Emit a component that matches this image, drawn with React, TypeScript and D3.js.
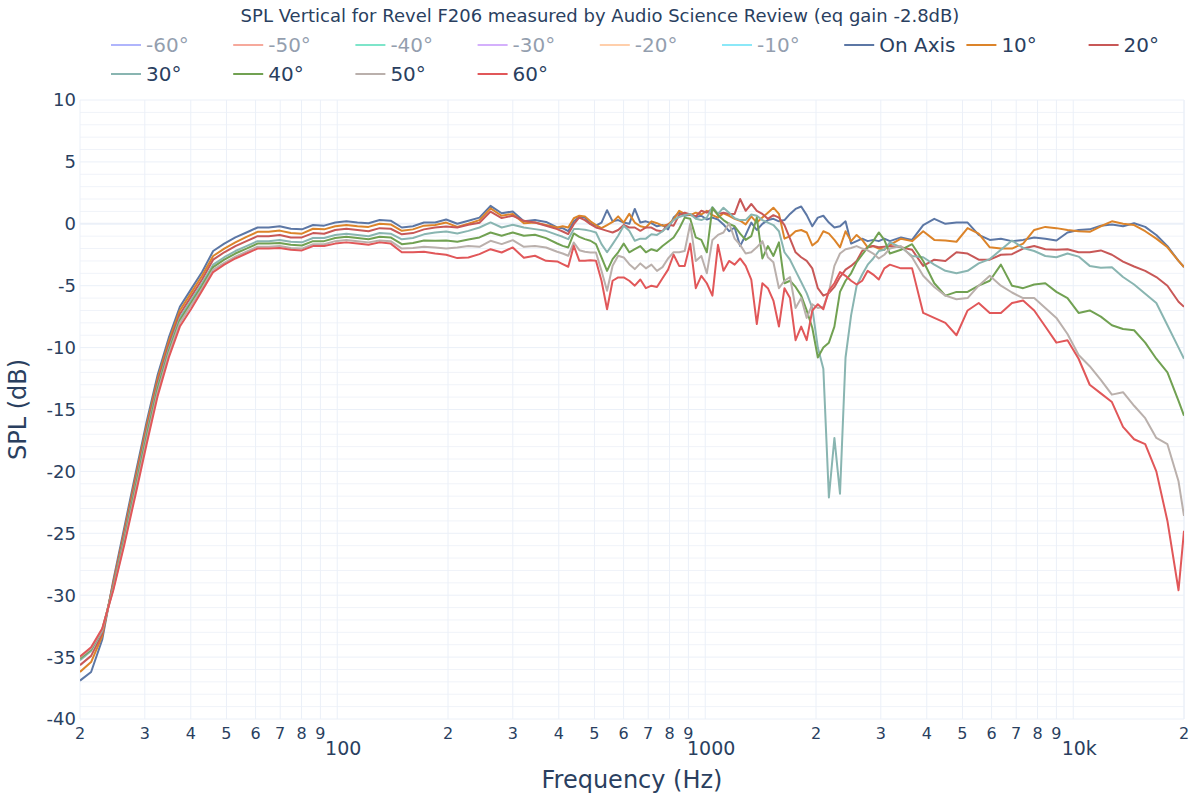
import React from 'react';
import * as d3 from 'd3';

const freqs = [20, 21.44, 22.98, 24.63, 26.4, 28.3, 30.34, 32.52, 34.86, 37.36,
  40.05, 42.93, 46.01, 49.32, 52.87, 56.67, 60.74, 65.11, 69.79, 74.81,
  80.19, 85.95, 92.13, 98.76, 105.9, 113.5, 121.6, 130.4, 139.7, 149.8,
  160.6, 172.1, 184.5, 197.7, 212, 227.2, 243.5, 261, 279.8, 299.9,
  321.5, 344.6, 369.4,
  396, 409.9, 424.4, 439.4, 454.9, 471, 487.6, 504.8, 522.6, 541.1,
  560.2, 580, 600.5, 621.7, 643.6, 666.3, 689.9, 714.2, 739.4, 765.5,
  792.6, 820.5, 849.5, 879.5, 910.6, 942.7, 976, 1010, 1046, 1083,
  1121, 1161, 1202, 1244, 1288, 1334, 1381, 1430, 1480, 1532,
  1586, 1642, 1700, 1760, 1823, 1887, 1954, 2023, 2094, 2168,
  2244, 2324, 2406, 2491, 2579, 2670, 2764, 2861, 2962, 3067,
  3175,
  3404, 3649, 3911, 4192, 4494, 4817, 5164, 5535, 5933, 6360,
  6818, 7308, 7834, 8397, 9001, 9649, 10343, 11087, 11885, 12739,
  13656, 14638, 15691, 16820, 18030, 19327, 20000];

const onAxis = [-36.9, -36.2, -33.6, -28.8, -24.5, -20.2, -16.0, -12.2, -9.2, -6.7,
  -5.3, -3.9, -2.2, -1.6, -1.1, -0.7, -0.3, -0.3, -0.2, -0.4,
  -0.45, -0.1, -0.15, 0.1, 0.2, 0.1, 0.05, 0.3, 0.25, -0.3,
  -0.2, 0.1, 0.1, 0.35, 0.0, 0.25, 0.5, 1.45, 0.85, 1.0,
  0.2, 0.3, 0.15,
  -0.3, -0.35, -0.6, 0.2, 0.55, 0.5, 0.0, -0.15, 0.1, 1.1,
  0.2, 0.3, 0.1, 0.0, 1.2, 0.1, 0.2, 0.05, -0.2, -0.1,
  -0.45, 0.5, 0.9, 0.65, 0.75, 0.55, 0.65, 0.35, 0.5, 0.35,
  -0.05, -0.6, -0.3, -1.8, -0.9, 0.1, -0.5, 0.0, 0.3, 0.4,
  0.2, 0.3, 0.8, 1.2, 1.4, 0.7, -0.2, 0.5, 0.65, 0.1,
  -0.3, -0.2, 0.2, -1.6, -1.4, -1.2, -1.4, -1.3, -1.4, -1.2,
  -1.4,
  -1.1, -1.3, -0.1, 0.4, 0.0, 0.1, 0.1, -0.9, -1.3, -1.2,
  -1.4, -1.3, -1.1, -1.2, -1.35, -0.7, -0.5, -0.45, -0.15, -0.05,
  -0.2, 0.05, -0.25, -0.9, -1.8, -3.0, -3.5];

const deg10 = [-36.2, -35.4, -33.3, -29.0, -24.8, -20.5, -16.3, -12.5, -9.5, -7.0,
  -5.6, -4.2, -2.6, -2.0, -1.5, -1.05, -0.65, -0.65, -0.55, -0.75,
  -0.8, -0.4, -0.45, -0.2, -0.1, -0.2, -0.25, 0.0, -0.05, -0.57,
  -0.45, -0.15, -0.1, 0.1, -0.25, 0.0, 0.3, 1.25, 0.65, 0.8,
  0.05, 0.1, -0.1,
  -0.3, -0.2, -0.3, 0.45, 0.65, 0.6, 0.2, -0.1, -0.35, -0.1,
  0.15, 0.6, 0.1, 0.8, 0.1, -0.2, -0.3, 0.2, 0.05, -0.15,
  -0.05, 0.35, 1.05, 0.8, 0.7, 0.9, 0.75, 1.05, 0.7, 0.5,
  0.85, 0.65, 0.4, 0.25, -0.05, 0.6, 0.1, 0.5, 0.9, 1.3,
  0.8, -1.2, -1.0, -0.6, -0.5, -0.7, -1.75, -1.4, -0.6, -0.8,
  -1.3, -1.9, -0.6, -1.4, -0.9, -1.3, -1.9, -1.8, -2.0, -2.1,
  -1.7,
  -1.2, -1.4, -0.6, -1.3, -1.35, -1.45, -0.35, -0.8, -1.9, -2.0,
  -2.0, -1.6, -0.5, -0.25, -0.35, -0.5, -0.6, -0.65, -0.2, 0.2,
  0.0, -0.1, -0.6, -1.2, -1.9, -3.0, -3.5];

const deg20 = [-35.65, -34.9, -33.1, -29.1, -25.0, -20.8, -16.6, -12.8, -9.8, -7.3,
  -5.9, -4.5, -2.9, -2.3, -1.8, -1.4, -1.0, -1.0, -0.9, -1.1,
  -1.1, -0.75, -0.8, -0.5, -0.4, -0.5, -0.6, -0.35, -0.4, -0.85,
  -0.75, -0.45, -0.3, -0.22, -0.3, -0.08, 0.08, 0.99, 0.46, 0.65,
  0.24, 0.11, -0.16,
  -0.43, -0.62, -0.83, -0.03, 0.51, 0.3, -0.03, -0.3, -0.43, -0.57,
  -0.7, -0.5, -0.1, -0.3, -0.3, -0.57, -0.3, -0.3, -0.55, -0.6,
  -0.05, -0.15, 0.7, 0.9, 0.75, 0.6, 1.05, 0.9, 1.2, 0.8,
  0.9, 0.8, 0.8, 2.0, 1.05, 1.6, 1.05, 0.8, 0.4, 0.7,
  0.5, -0.1, -1.2, -2.3, -2.7, -3.0, -3.6, -5.2, -5.8, -5.6,
  -5.1, -4.3, -3.7, -3.4, -3.0, -2.2, -1.9, -1.8, -1.9, -1.85,
  -1.8,
  -1.9, -2.1, -3.4, -2.9, -3.0, -2.3, -2.4, -2.9, -2.9, -2.5,
  -2.45, -2.0, -1.8, -2.05, -2.1, -2.05, -2.3, -2.3, -2.15, -2.5,
  -3.05, -3.45, -3.8, -4.3, -5.0, -6.3, -6.7];

const deg30 = [-35.25, -34.5, -32.9, -29.3, -25.3, -21.1, -16.9, -13.1, -10.1, -7.6,
  -6.2, -4.8, -3.3, -2.7, -2.2, -1.8, -1.4, -1.4, -1.3, -1.45,
  -1.5, -1.15, -1.15, -0.9, -0.8, -0.9, -1.0, -0.75, -0.8, -1.25,
  -1.15, -0.85, -0.7, -0.62, -0.78, -0.57, -0.3, 0.11, -0.3, -0.08,
  -0.3, -0.43, -0.57,
  -0.89, -1.05, -1.24, -0.43, -0.43, -0.48, -0.57, -0.7, -1.64, -2.3,
  -1.64, -0.97, -0.16, -0.57, -1.37, -1.2, -1.2, -0.85, -0.9, -0.6,
  -0.2, 0.3, 0.55, 0.7, 0.8, 0.4, 0.3, 0.5, 1.35, 0.8,
  1.3, 0.9, 0.45, 0.3, 0.3, 0.75, 0.65, 0.3, 0.1, -0.1,
  -0.6, -2.3, -2.9, -3.8, -4.7, -5.6, -6.8, -10.0, -11.7, -22.1,
  -17.3, -21.8, -10.8, -7.4, -5.0, -4.1, -3.3, -2.8, -2.2, -2.1,
  -1.5,
  -1.9, -2.6, -2.7, -3.3, -3.8, -4.0, -3.8, -3.2, -2.85, -2.1,
  -1.35, -1.95, -2.2, -2.6, -2.7, -2.4, -2.65, -3.4, -3.55, -3.5,
  -4.3, -4.9, -5.65, -6.4, -8.2, -10.0, -10.9];

const deg40 = [-35.1, -34.4, -32.8, -29.4, -25.5, -21.3, -17.2, -13.3, -10.3, -7.8,
  -6.4, -5.0, -3.5, -2.9, -2.4, -2.0, -1.6, -1.6, -1.55, -1.7,
  -1.75, -1.4, -1.4, -1.15, -1.05, -1.15, -1.25, -1.05, -1.1, -1.65,
  -1.55, -1.35, -1.37, -1.35, -1.45, -1.27, -1.1, -0.7, -0.97, -0.7,
  -0.97, -0.89, -1.16,
  -1.59, -1.78, -1.91, -0.78, -1.05, -1.24, -1.37, -1.64, -2.72, -3.8,
  -2.85, -2.3, -1.6, -2.3, -2.05, -1.8, -2.3, -2.05, -2.2, -1.8,
  -1.45, -1.1, -0.4, 0.5, 0.4, -1.1, -1.3, -2.3, 1.3, 0.7,
  0.3, 0.0, -0.2, -0.8, -1.3, -1.0, 0.5, -2.8, -1.8, -2.6,
  -1.5, -4.8, -4.6, -5.1, -5.8, -7.0, -8.4, -10.8, -10.0, -9.6,
  -8.3, -5.5, -4.6, -4.0, -3.1, -2.5, -1.9, -1.4, -0.7, -1.3,
  -2.4,
  -2.1, -1.65, -3.0, -4.8, -5.8, -5.5, -5.5, -5.0, -4.6, -3.3,
  -5.0, -5.2, -4.9, -4.8, -5.5, -6.0, -7.2, -7.0, -7.5, -8.2,
  -8.5, -8.6, -9.6, -10.9, -12.0, -14.3, -15.5];

const deg50 = [-35.0, -34.3, -32.8, -29.5, -25.7, -21.6, -17.5, -13.6, -10.5, -8.0,
  -6.6, -5.2, -3.7, -3.15, -2.65, -2.25, -1.85, -1.85, -1.8, -1.95,
  -2.0, -1.65, -1.65, -1.4, -1.3, -1.4, -1.5, -1.35, -1.4, -2.0,
  -1.95, -1.85, -1.91, -1.99, -1.91, -1.8, -1.86, -1.37, -1.64, -1.32,
  -1.86, -1.8, -1.91,
  -2.26, -2.4, -2.58, -1.51, -2.13, -2.26, -2.32, -2.32, -3.8, -5.41,
  -3.39, -2.58, -2.72, -3.26, -3.66, -3.2, -3.6, -3.3, -3.8, -3.5,
  -2.8, -2.3, -2.3, -2.2, 0.0, -3.0, -2.6, -4.0, -1.3, -0.9,
  -0.7, 0.05, -1.2, -1.7, -2.4, -2.3, -1.9, -1.4, -2.7, -3.1,
  -5.2, -4.6, -4.3, -6.8, -6.0, -7.6, -6.5, -6.8, -6.7, -5.5,
  -3.4, -2.4, -2.05, -1.95, -1.8, -2.0, -2.15, -2.4, -2.8, -2.5,
  -2.0,
  -1.8, -2.7, -4.2, -5.1, -5.8, -6.1, -6.0, -5.0, -4.2, -5.0,
  -5.55, -6.0, -6.0, -6.8, -7.6, -8.9, -10.6, -11.5, -12.6, -13.8,
  -13.6, -14.7, -15.7, -17.3, -17.8, -20.8, -23.6];

const deg60 = [-34.95, -34.2, -32.7, -29.6, -25.9, -21.9, -17.8, -13.9, -10.8, -8.3,
  -6.9, -5.4, -3.9, -3.3, -2.8, -2.4, -2.0, -2.0, -1.95, -2.1,
  -2.15, -1.8, -1.8, -1.6, -1.5, -1.6, -1.7, -1.5, -1.6, -2.3,
  -2.3, -2.25, -2.4, -2.5, -2.77, -2.72, -2.45, -2.05, -2.32, -1.91,
  -2.75, -2.58, -2.99,
  -3.04, -3.26, -3.47, -1.78, -2.99, -2.99, -2.94, -2.99, -4.6, -6.9,
  -4.6, -4.33, -4.33, -4.6, -5.0, -4.5, -5.2, -5.0, -5.1, -4.4,
  -3.7, -2.5, -3.4, -3.4, -1.6, -5.2, -4.2, -4.8, -5.8, -1.7,
  -3.8, -3.0, -3.3, -2.8, -3.4, -4.5, -8.1, -4.8, -5.2, -6.2,
  -8.3, -5.2, -6.0, -9.4, -8.3, -9.4, -7.0, -6.5, -6.9, -5.4,
  -4.8, -3.9, -4.2, -4.6, -4.9, -4.6, -3.8, -4.1, -4.5, -3.6,
  -3.3,
  -3.6, -3.6, -7.2, -7.6, -8.0, -9.0, -7.0, -6.4, -7.2, -7.2,
  -6.4, -6.2, -7.0, -8.3, -9.6, -9.4, -10.9, -13.0, -13.7, -14.4,
  -16.4, -17.4, -17.8, -20.0, -24.0, -29.6, -24.8];

const hiddenNames = ['-60°', '-50°', '-40°', '-30°', '-20°', '-10°'];
const hiddenColors = ['#636efa', '#EF553B', '#00cc96', '#ab63fa', '#FFA15A', '#19d3f3'];

const visibleNames = ['On Axis', '10°', '20°', '30°', '40°', '50°', '60°'];
const visibleColors = ['#5c77a5', '#dc842a', '#c85857', '#89b5b1', '#71a152', '#bab0ac', '#e15759'];
const visibleValues = [onAxis, deg10, deg20, deg30, deg40, deg50, deg60];

const yTickVals = [10, 5, 0, -5, -10, -15, -20, -25, -30, -35, -40];
const xTickVals = [20, 30, 40, 50, 60, 70, 80, 90, 100, 200, 300, 400, 500, 600, 700, 800, 900,
  1000, 2000, 3000, 4000, 5000, 6000, 7000, 8000, 9000, 10000, 20000];
const xTickText = ['2', '3', '4', '5', '6', '7', '8', '9', '100', '2', '3', '4', '5', '6', '7', '8', '9',
  '1000', '2', '3', '4', '5', '6', '7', '8', '9', '10k', '2'];
const xMajor = [100, 1000, 10000];

const TITLE = 'SPL Vertical for Revel F206 measured by Audio Science Review (eq gain -2.8dB)';
const FONT = '"DejaVu Sans", Verdana, sans-serif';
const TXT = '#2a3f5f';

export default function App() {
  const left = 80, right = 1184, top = 100, bottom = 719;
  const x = d3.scaleLog().domain([20, 20000]).range([left, right]);
  const y = d3.scaleLinear().domain([-40, 10]).range([bottom, top]);

  const line = d3.line<[number, number]>()
    .defined(d => d[1] !== undefined && !isNaN(d[1]))
    .x(d => x(d[0]))
    .y(d => y(d[1]));

  const gridX: number[] = [];
  for (let dec = 10; dec <= 10000; dec *= 10) {
    for (let k = 1; k <= 9; k++) {
      const v = dec * k;
      if (v >= 20 && v <= 20000) gridX.push(v);
    }
  }
  gridX.push(20000);
  const minorY = d3.range(-40, 11, 1).filter(v => v % 5 !== 0);

  const legendItems = [
    ...hiddenNames.map((n, i) => ({ name: n, color: hiddenColors[i], hidden: true })),
    ...visibleNames.map((n, i) => ({ name: n, color: visibleColors[i], hidden: false })),
  ];

  return (
    <svg width={1200} height={800} style={{ position: 'absolute', left: 0, top: 0, background: '#fff' }}
      fontFamily={FONT}>
      <defs>
        <clipPath id="plotclip">
          <rect x={left} y={top} width={right - left} height={bottom - top} />
        </clipPath>
      </defs>
      <rect x={0} y={0} width={1200} height={800} fill="#fff" />
      {/* grid */}
      <g>
        {minorY.map(v => (
          <line key={'my' + v} x1={left} x2={right} y1={y(v)} y2={y(v)} stroke="#f0f3f9" strokeWidth={1} />
        ))}
        {gridX.map(v => (
          <line key={'gx' + v} x1={x(v)} x2={x(v)} y1={top} y2={bottom} stroke="#EBF0F8" strokeWidth={1} />
        ))}
        {yTickVals.map(v => (
          <line key={'gy' + v} x1={left} x2={right} y1={y(v)} y2={y(v)} stroke="#EBF0F8" strokeWidth={v === 0 ? 2 : 1} />
        ))}
      </g>
      {/* lines */}
      <g clipPath="url(#plotclip)">
        {visibleValues.map((vals, si) => {
          const pts = freqs.map((f, i) => [f, vals[i]] as [number, number]);
          return (
            <path key={visibleNames[si]} d={line(pts) || ''} fill="none" stroke={visibleColors[si]}
              strokeWidth={2} strokeLinejoin="round" />
          );
        })}
      </g>
      {/* y ticks */}
      <g fontSize={18} fill={TXT}>
        {yTickVals.map(v => (
          <text key={'yt' + v} x={76} y={y(v)} dy="0.36em" textAnchor="end">{String(v)}</text>
        ))}
      </g>
      {/* x ticks */}
      <g fill={TXT}>
        {xTickVals.map((v, i) => {
          const major = xMajor.includes(v);
          return major ? (
            <text key={'xt' + v} x={x(v) + 6} y={755} fontSize={19} textAnchor="middle">{xTickText[i]}</text>
          ) : (
            <text key={'xt' + v} x={x(v)} y={739} fontSize={16} textAnchor="middle">{xTickText[i]}</text>
          );
        })}
      </g>
      {/* axis titles */}
      <text x={(left + right) / 2} y={788} fontSize={24} fill={TXT} textAnchor="middle">Frequency (Hz)</text>
      <text transform={`translate(26, ${(top + bottom) / 2}) rotate(-90)`} fontSize={24} fill={TXT}
        textAnchor="middle">SPL (dB)</text>
      {/* title */}
      <text x={600} y={22} fontSize={18} fill={TXT} textAnchor="middle">{TITLE}</text>
      {/* legend */}
      <g>
        {legendItems.map((it, i) => {
          const row = i < 9 ? 0 : 1;
          const col = i < 9 ? i : i - 9;
          const lx = 106 + col * 122.2;
          const ly = row === 0 ? 45 : 74;
          return (
            <g key={'lg' + it.name} opacity={it.hidden ? 0.5 : 1}>
              <line x1={lx + 5} x2={lx + 35} y1={ly} y2={ly} stroke={it.color} strokeWidth={2} />
              <text x={lx + 40} y={ly} dy="0.36em" fontSize={20} fill={TXT}>{it.name}</text>
            </g>
          );
        })}
      </g>
    </svg>
  );
}
